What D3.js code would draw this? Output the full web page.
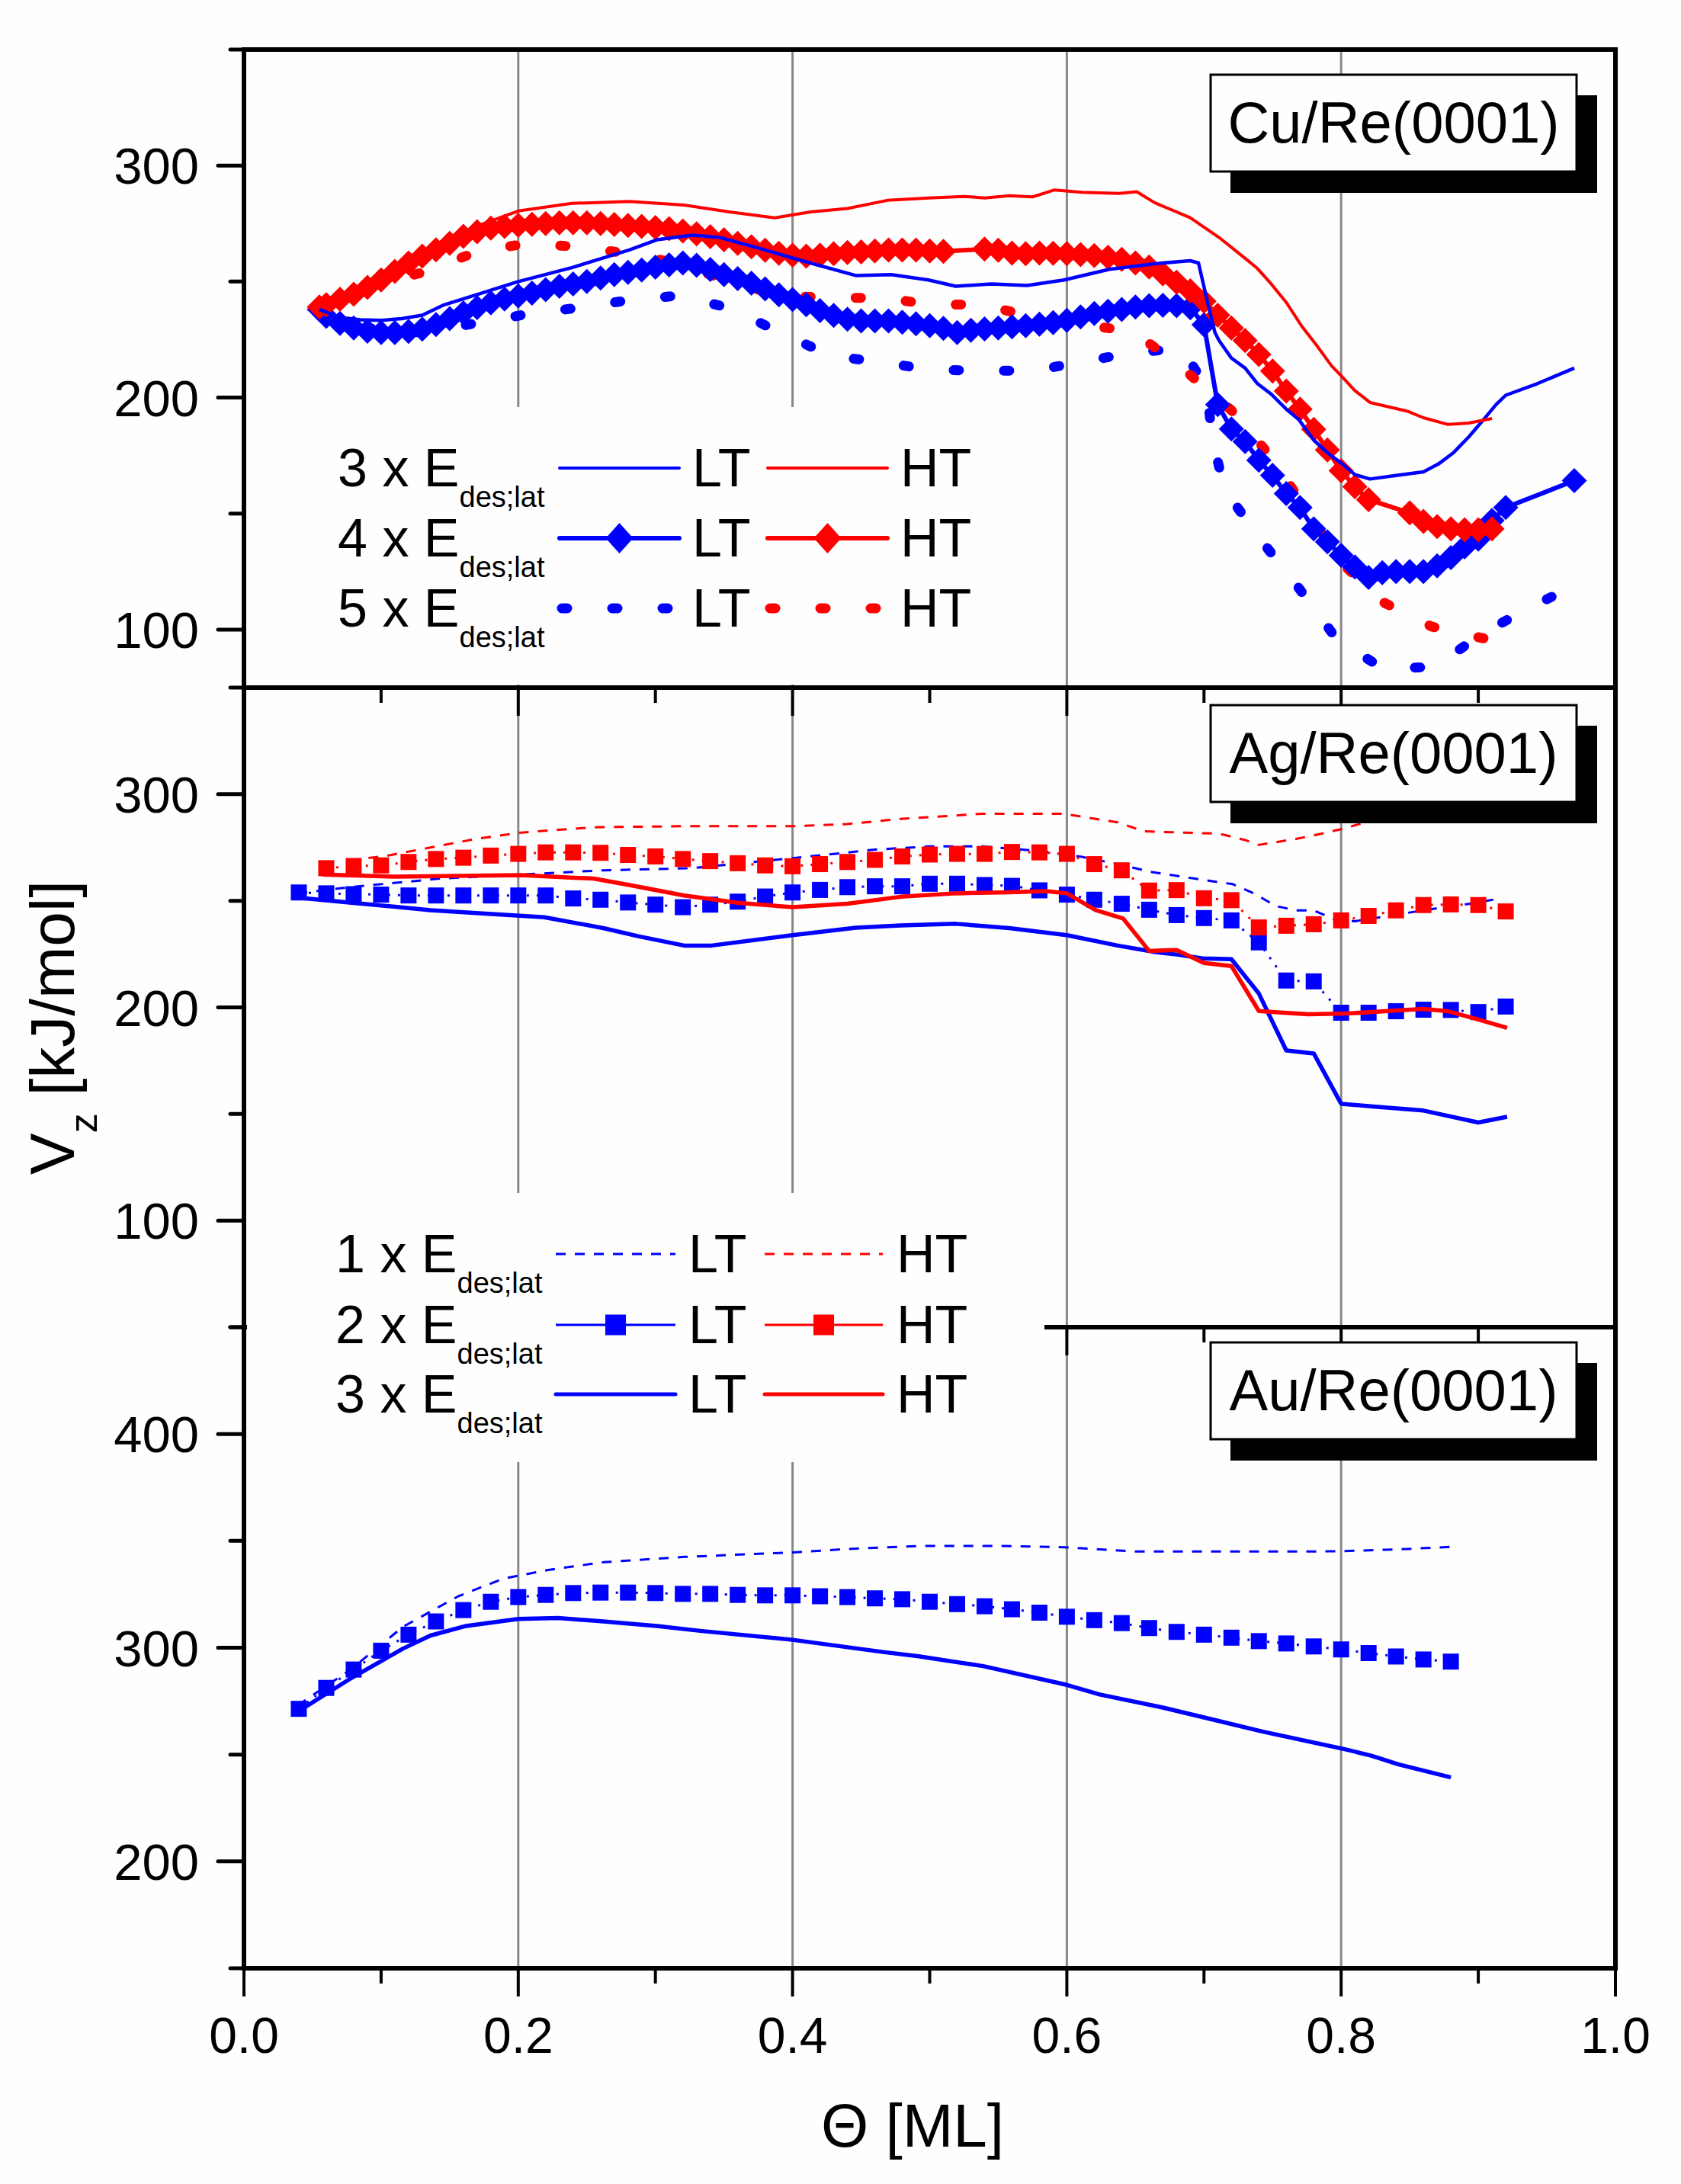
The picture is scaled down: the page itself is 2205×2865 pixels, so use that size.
<!DOCTYPE html>
<html><head><meta charset="utf-8">
<script src="https://cdn.jsdelivr.net/npm/d3@7"></script>
<style>body{margin:0;background:#fff}svg{display:block}</style>
</head><body>
<svg id="c" width="2205" height="2865"></svg>
<script>
// ---------------- DATA ----------------
const xTicksMajor = [0, 0.2, 0.4, 0.6, 0.8, 1.0];
const xTicksMinor = [0.1, 0.3, 0.5, 0.7, 0.9];
const xTickLabels = ["0.0", "0.2", "0.4", "0.6", "0.8", "1.0"];
const gridX = [0.2, 0.4, 0.6, 0.8];
const panelNames = ["Cu/Re(0001)", "Ag/Re(0001)", "Au/Re(0001)"];
const yLabelsCu = [100, 200, 300];
const yLabelsAg = [100, 200, 300];
const yLabelsAu = [200, 300, 400];
const legendCu = ["3", "4", "5"];
const legendAg = ["1", "2", "3"];

// Cu/Re(0001)
const cu3LT = [[0.055,238],[0.07,234.5],[0.085,233.5],[0.1,233.3],[0.115,234],[0.13,235.5],[0.146,240],[0.17,244.4],[0.2,250],[0.239,256],[0.281,263.6],[0.301,268],[0.327,270],[0.347,269],[0.374,264.6],[0.407,259],[0.446,252.6],[0.472,253],[0.499,250.7],[0.519,248],[0.545,249],[0.571,248.3],[0.598,250.7],[0.631,255.3],[0.664,257.7],[0.69,259],[0.696,258],[0.703,240],[0.708,228],[0.711,224.6],[0.72,217],[0.73,212.7],[0.739,206],[0.749,201.5],[0.76,195],[0.769,190.6],[0.78,181.7],[0.791,175.7],[0.8,171.8],[0.81,166.8],[0.821,164.9],[0.841,166.5],[0.86,168],[0.871,171.4],[0.882,176.3],[0.893,183],[0.904,190.6],[0.913,197],[0.92,201],[0.943,206],[0.97,212.7]];
const cu3HT = [[0.052,238.4],[0.08,246.5],[0.109,255.6],[0.146,266.5],[0.17,274],[0.2,280.4],[0.239,283.7],[0.281,284.5],[0.321,283],[0.354,280],[0.387,277.5],[0.413,280],[0.44,281.5],[0.469,285],[0.499,286],[0.525,286.7],[0.54,286],[0.558,287],[0.575,286.5],[0.591,289.5],[0.611,288.5],[0.638,288],[0.651,288.7],[0.664,284],[0.69,277.5],[0.711,269],[0.73,260],[0.739,255.6],[0.749,249],[0.76,241],[0.771,231],[0.782,222.6],[0.793,213.7],[0.8,209.4],[0.81,203],[0.821,197.9],[0.849,194],[0.86,191.3],[0.878,188.4],[0.893,189],[0.91,191]];
const cu4LT = [[0.055,238],[0.06,235],[0.07,232],[0.08,230],[0.09,228.6],[0.1,228],[0.11,228],[0.12,228.5],[0.13,229.5],[0.14,231.5],[0.15,234],[0.16,236.5],[0.17,238.8],[0.18,240.8],[0.19,242.5],[0.2,243.8],[0.21,245],[0.22,246.5],[0.23,248],[0.24,249],[0.25,250],[0.26,251.5],[0.27,253],[0.28,254],[0.29,255],[0.3,256.2],[0.31,257.2],[0.32,258],[0.33,257],[0.34,255.2],[0.35,253],[0.36,251.3],[0.37,249.3],[0.38,246.8],[0.39,244.3],[0.4,242.2],[0.41,240],[0.42,237.5],[0.43,235.4],[0.44,233.8],[0.45,233],[0.46,233],[0.47,233],[0.48,232.5],[0.49,231.8],[0.5,231],[0.51,229.8],[0.52,228],[0.53,229],[0.54,229.6],[0.55,230],[0.56,230.5],[0.57,231],[0.58,231.6],[0.59,232.3],[0.6,233.3],[0.61,234.8],[0.62,236.2],[0.63,237.2],[0.64,238],[0.65,239],[0.66,239.6],[0.67,239.8],[0.68,239.6],[0.69,238.7],[0.7,231.4],[0.71,197],[0.72,186.5],[0.73,181],[0.74,173],[0.75,166.5],[0.76,158.6],[0.77,152.6],[0.78,143.4],[0.79,137.8],[0.8,132],[0.81,127],[0.82,122.5],[0.83,124.5],[0.84,125],[0.85,125],[0.86,125],[0.87,127.5],[0.88,131],[0.89,135.6],[0.9,139],[0.91,147],[0.92,152.6],[0.97,164.2]];
const cu4HT = [[0.055,239],[0.06,240],[0.07,242.4],[0.08,244.5],[0.09,247.5],[0.1,250.7],[0.11,254.4],[0.12,258],[0.13,261],[0.14,263.7],[0.15,266.5],[0.16,269.5],[0.17,271.5],[0.18,273],[0.19,273.8],[0.2,274.3],[0.21,274.7],[0.22,275],[0.23,275.3],[0.24,275.3],[0.25,275.3],[0.26,275],[0.27,274.6],[0.28,274.2],[0.29,273.8],[0.3,273.3],[0.31,272.8],[0.32,271.8],[0.33,270.6],[0.34,269.3],[0.35,268],[0.36,266.5],[0.37,265],[0.38,263.5],[0.39,262.2],[0.4,261.4],[0.41,261],[0.42,261.4],[0.43,262],[0.44,262.5],[0.45,262.8],[0.46,263.2],[0.47,263.6],[0.48,263.6],[0.49,263.6],[0.5,263.2],[0.51,263],[0.54,264],[0.55,263.5],[0.56,262.3],[0.57,262],[0.58,262.3],[0.59,262.2],[0.6,262],[0.61,261.6],[0.62,261.2],[0.63,260.5],[0.64,259.6],[0.65,258],[0.66,256.3],[0.67,253.3],[0.68,249.7],[0.69,246],[0.7,241.5],[0.71,235.5],[0.72,230],[0.73,224.6],[0.74,218.6],[0.75,211.4],[0.76,202.8],[0.77,195],[0.78,186.3],[0.79,177.4],[0.8,168.5],[0.81,161.6],[0.82,156],[0.85,150.3],[0.86,146.6],[0.87,144.4],[0.88,143.4],[0.89,143],[0.9,143],[0.91,143.4]];
const cu5LT = [[0.055,238],[0.07,234],[0.09,230],[0.11,228.5],[0.133,228],[0.171,232.3],[0.207,236],[0.244,238.7],[0.281,242],[0.318,244],[0.355,238.4],[0.391,228],[0.428,218],[0.465,215.2],[0.501,212],[0.538,211.6],[0.575,211.6],[0.611,215.3],[0.648,219.4],[0.684,221.2],[0.702,204],[0.706,182.4],[0.715,160.3],[0.741,139],[0.769,118],[0.797,95.7],[0.831,83],[0.868,84],[0.906,99.4],[0.941,110.5],[0.96,116]];
const cu5HT = [[0.055,239],[0.075,243],[0.096,249],[0.133,254.3],[0.171,263.2],[0.207,266.4],[0.244,265],[0.281,262],[0.318,257.6],[0.355,249.8],[0.391,244],[0.428,243],[0.466,243],[0.502,240],[0.538,240.2],[0.575,234.7],[0.611,231.4],[0.648,228.6],[0.682,213.8],[0.72,194.5],[0.751,173],[0.775,151],[0.799,129.5],[0.83,112],[0.866,101.3],[0.903,96.3],[0.91,96]];

// Ag/Re(0001)
const ag1LT = [[0.039,253.5],[0.077,256.4],[0.143,260.4],[0.202,262.3],[0.262,264.3],[0.327,265.3],[0.4,270],[0.46,274],[0.499,275.5],[0.538,275.5],[0.578,273.5],[0.611,270.6],[0.637,267.2],[0.661,263.6],[0.693,260.4],[0.721,257.8],[0.737,253.3],[0.752,247.6],[0.767,245.5],[0.78,245.5],[0.797,240.8],[0.81,240.4],[0.841,243.6],[0.869,246.4],[0.897,248.9],[0.913,250.8]];
const ag1HT = [[0.077,269],[0.103,271],[0.136,275],[0.169,279],[0.202,282],[0.255,284.5],[0.321,285],[0.4,285],[0.44,286],[0.479,288.4],[0.538,290.8],[0.598,290.8],[0.637,286.8],[0.656,282.6],[0.684,282],[0.711,281.5],[0.73,278.5],[0.74,276.2],[0.767,279],[0.786,281.5],[0.8,283.6],[0.815,286.3],[0.85,293],[0.89,300],[0.92,305]];
const ag2LT = [[0.04,253.9],[0.06,253.5],[0.08,253.1],[0.1,252.9],[0.12,252.5],[0.14,252.5],[0.16,252.5],[0.18,252.5],[0.2,252.5],[0.22,252.5],[0.24,251.1],[0.26,250.5],[0.28,249.2],[0.3,248.2],[0.32,247],[0.34,248.2],[0.36,249.6],[0.38,252],[0.4,253.9],[0.42,255.1],[0.44,256.4],[0.46,256.8],[0.48,256.8],[0.5,258],[0.52,258],[0.54,257.4],[0.56,257],[0.58,254.9],[0.6,252.9],[0.62,250.5],[0.64,248.6],[0.66,245.8],[0.68,243.3],[0.7,241.9],[0.72,240.8],[0.74,230.5],[0.76,212.6],[0.78,212.2],[0.8,197.5],[0.82,197.5],[0.84,198.2],[0.86,198.9],[0.88,198.8],[0.9,197.8],[0.92,200.4]];
const ag2HT = [[0.06,265.3],[0.08,266.3],[0.1,266.6],[0.12,268.2],[0.14,269.6],[0.16,270.2],[0.18,271.2],[0.2,272],[0.22,272.7],[0.24,272.7],[0.26,272.5],[0.28,271.5],[0.3,270.8],[0.32,269.6],[0.34,268.6],[0.36,267.6],[0.38,266.6],[0.4,266.2],[0.42,267.2],[0.44,268.2],[0.46,269.2],[0.48,270.8],[0.5,271.7],[0.52,272],[0.54,272],[0.56,272.9],[0.58,272.7],[0.6,272],[0.62,267.2],[0.64,264.3],[0.66,254.8],[0.68,255],[0.7,251.2],[0.72,250.3],[0.74,237.5],[0.76,238.3],[0.78,239],[0.8,240.8],[0.82,242.9],[0.84,245.5],[0.86,248],[0.88,248.3],[0.9,248],[0.92,245]];
const ag3LT = [[0.039,251.5],[0.077,249.2],[0.136,245.6],[0.176,244],[0.219,242.3],[0.262,237.2],[0.288,233.3],[0.321,229],[0.341,229],[0.4,233.9],[0.446,237.4],[0.479,238.4],[0.519,239.2],[0.558,237.2],[0.6,233.9],[0.637,229],[0.664,226],[0.68,224.8],[0.699,223],[0.72,222.6],[0.74,206.5],[0.76,179.8],[0.78,178.4],[0.8,154.8],[0.823,153.5],[0.86,151.6],[0.9,146],[0.921,148.7]];
const ag3HT = [[0.057,262.3],[0.11,261.3],[0.202,262],[0.255,260.4],[0.281,257.4],[0.321,252.5],[0.361,249],[0.4,247],[0.44,248.6],[0.479,251.9],[0.519,253.5],[0.558,254],[0.585,254.5],[0.6,253.5],[0.621,245.6],[0.641,241.7],[0.66,226.5],[0.68,226.9],[0.7,220.8],[0.72,219.4],[0.74,198.3],[0.756,197.6],[0.776,196.8],[0.804,197.1],[0.841,198.6],[0.86,199.3],[0.878,198.2],[0.9,194.3],[0.921,190.4]];

// Au/Re(0001)
const au1LT = [[0.039,273],[0.077,289.4],[0.116,309.8],[0.156,324],[0.189,332.3],[0.222,336.4],[0.262,340],[0.321,342.5],[0.4,344.6],[0.44,346.2],[0.492,347.6],[0.552,347.6],[0.598,347],[0.651,345],[0.703,345],[0.769,345],[0.802,345.2],[0.848,346.2],[0.88,347.2]];
const au2LT = [[0.04,271.4],[0.06,281.2],[0.08,289.8],[0.1,298.6],[0.12,306.1],[0.14,312.3],[0.16,317.6],[0.18,321.5],[0.2,323.7],[0.22,324.7],[0.24,325.6],[0.26,325.8],[0.28,325.8],[0.3,325.6],[0.32,325.2],[0.34,325.2],[0.36,324.7],[0.38,324.5],[0.4,324.5],[0.42,324.1],[0.44,323.7],[0.46,323.1],[0.48,322.7],[0.5,321.5],[0.52,320.4],[0.54,319.4],[0.56,318],[0.58,316.4],[0.6,314.5],[0.62,312.9],[0.64,311.5],[0.66,309.2],[0.68,307.4],[0.7,306.1],[0.72,304.7],[0.74,303.1],[0.76,302],[0.78,300.6],[0.8,299.2],[0.82,297.5],[0.84,295.9],[0.86,294.5],[0.88,293.5]];
const au3LT = [[0.039,270],[0.077,285.3],[0.116,299.6],[0.136,305.7],[0.162,310.2],[0.2,313.5],[0.229,313.9],[0.262,312.3],[0.301,310.2],[0.334,307.8],[0.4,303.7],[0.466,298],[0.492,296],[0.539,291.4],[0.6,282.6],[0.624,278.1],[0.67,272],[0.703,266.9],[0.743,260.7],[0.802,252.6],[0.822,249.5],[0.842,245.4],[0.88,239.3]];

// ---------------- DRAWING ----------------
const BLUE = "#0000ff", RED = "#ff0000", FONT = "'Liberation Sans', Arial, Helvetica, sans-serif", BG = "#fdfefd";
const svg = d3.select("#c");
svg.append("rect").attr("width", 2205).attr("height", 2865).attr("fill", BG);

const x = d3.scaleLinear().domain([0, 1]).range([320, 2119]);
const panels = [
  { name: panelNames[0], y: d3.scaleLinear().domain([75, 350]).range([902, 65]), ticks: d3.range(100, 351, 50), labels: yLabelsCu, boxTop: 98 },
  { name: panelNames[1], y: d3.scaleLinear().domain([50, 350]).range([1741, 902]), ticks: d3.range(50, 351, 50), labels: yLabelsAg, boxTop: 925 },
  { name: panelNames[2], y: d3.scaleLinear().domain([150, 450]).range([2582, 1741]), ticks: d3.range(150, 451, 50), labels: yLabelsAu, boxTop: 1761 }
];

const gGrid = svg.append("g"), gData = svg.append("g"), gLeg1 = svg.append("g"),
      gAxes = svg.append("g"), gLeg2 = svg.append("g"), gBoxes = svg.append("g");

// grid
panels.forEach(p => {
  const [y0, y1] = p.y.range();
  gGrid.selectAll(null).data(gridX).enter().append("line")
    .attr("x1", d => x(d)).attr("x2", d => x(d)).attr("y1", y1).attr("y2", y0)
    .attr("stroke", "#888").attr("stroke-width", 3);
});

function linePath(y, data) { return d3.line().x(d => x(d[0])).y(d => y(d[1]))(data); }
function drawLine(g, y, data, color, width, dash, cap) {
  g.append("path").attr("d", linePath(y, data)).attr("fill", "none")
    .attr("stroke", color).attr("stroke-width", width)
    .attr("stroke-dasharray", dash || null)
    .attr("stroke-linecap", cap || "butt").attr("stroke-linejoin", "round");
}
function diamondPath(s) { return `M0,${-s}L${s},0L0,${s}L${-s},0Z`; }
function drawDiamonds(g, y, data, color, s) {
  g.selectAll(null).data(data).enter().append("path")
    .attr("d", diamondPath(s)).attr("transform", d => `translate(${x(d[0])},${y(d[1])})`)
    .attr("fill", color);
}
function drawSquares(g, y, data, color, s) {
  g.selectAll(null).data(data).enter().append("rect")
    .attr("x", d => x(d[0]) - s / 2).attr("y", d => y(d[1]) - s / 2)
    .attr("width", s).attr("height", s).attr("fill", color);
}

// Cu panel
{
  const y = panels[0].y;
  drawLine(gData, y, cu5LT, BLUE, 13, "7 59", "round");
  drawLine(gData, y, cu5HT, RED, 13, "7 59", "round");
  drawLine(gData, y, cu4LT, BLUE, 6);
  drawDiamonds(gData, y, cu4LT, BLUE, 16.5);
  drawLine(gData, y, cu4HT, RED, 6);
  drawDiamonds(gData, y, cu4HT, RED, 16.5);
  drawLine(gData, y, cu3LT, BLUE, 4.5);
  drawLine(gData, y, cu3HT, RED, 4);
}
// Ag panel
{
  const y = panels[1].y;
  drawLine(gData, y, ag1LT, BLUE, 3, "13 12");
  drawLine(gData, y, ag1HT, RED, 3, "13 12");
  drawLine(gData, y, ag2LT, BLUE, 3, "3 10");
  drawSquares(gData, y, ag2LT, BLUE, 21);
  drawLine(gData, y, ag2HT, RED, 3, "3 10");
  drawSquares(gData, y, ag2HT, RED, 21);
  drawLine(gData, y, ag3LT, BLUE, 5.5);
  drawLine(gData, y, ag3HT, RED, 5.5);
}
// Au panel
{
  const y = panels[2].y;
  drawLine(gData, y, au1LT, BLUE, 3, "13 12");
  drawLine(gData, y, au2LT, BLUE, 3, "3 10");
  drawSquares(gData, y, au2LT, BLUE, 21);
  drawLine(gData, y, au3LT, BLUE, 5.5);
}

// legend helpers
function legendLabel(g, num, xt, base) {
  const t = g.append("text").attr("x", xt).attr("y", base).attr("font-family", FONT).attr("font-size", 70).attr("fill", "#000");
  t.append("tspan").text(num + " x E");
  t.append("tspan").attr("font-size", 38).attr("dy", 27).text("des;lat");
}
function legendText(g, s, xt, base) {
  g.append("text").attr("x", xt).attr("y", base).attr("font-family", FONT).attr("font-size", 70).attr("fill", "#000").text(s);
}

// Top legend (Cu)
gLeg1.append("rect").attr("x", 325).attr("y", 534).attr("width", 1045).attr("height", 364).attr("fill", BG);
{
  const bases = [638, 730, 822];
  legendCu.forEach((n, i) => {
    const b = bases[i], ly = b - 24;
    legendLabel(gLeg1, n, 443, b);
    legendText(gLeg1, "LT", 908, b);
    legendText(gLeg1, "HT", 1181, b);
    [[734, 891, BLUE], [1007, 1164, RED]].forEach(([a, z, c]) => {
      if (i === 0) gLeg1.append("line").attr("x1", a).attr("x2", z).attr("y1", ly).attr("y2", ly).attr("stroke", c).attr("stroke-width", 4).attr("stroke-linecap", "round");
      if (i === 1) {
        gLeg1.append("line").attr("x1", a).attr("x2", z).attr("y1", ly).attr("y2", ly).attr("stroke", c).attr("stroke-width", 6).attr("stroke-linecap", "round");
        gLeg1.append("path").attr("d", `M0,-20L18,0L0,20L-18,0Z`).attr("transform", `translate(${(a + z) / 2},${ly})`).attr("fill", c);
      }
      if (i === 2) gLeg1.append("line").attr("x1", a + 3).attr("x2", z - 5).attr("y1", ly).attr("y2", ly).attr("stroke", c).attr("stroke-width", 13).attr("stroke-dasharray", "7 59").attr("stroke-linecap", "round");
    });
  });
}

// axes
panels.forEach((p, pi) => {
  const [yb, yt] = p.y.range();
  gAxes.append("line").attr("x1", 320).attr("x2", 320).attr("y1", yt).attr("y2", yb).attr("stroke", "#000").attr("stroke-width", 6);
  gAxes.append("line").attr("x1", 2119).attr("x2", 2119).attr("y1", yt).attr("y2", yb).attr("stroke", "#000").attr("stroke-width", 6);
  if (pi === 0) gAxes.append("line").attr("x1", 317).attr("x2", 2122).attr("y1", yt).attr("y2", yt).attr("stroke", "#000").attr("stroke-width", 6);
  gAxes.append("line").attr("x1", 317).attr("x2", 2122).attr("y1", yb).attr("y2", yb).attr("stroke", "#000").attr("stroke-width", 6);
  p.ticks.forEach(v => {
    const major = p.labels.includes(v);
    gAxes.append("line").attr("x1", 320).attr("x2", 320 - (major ? 34 : 18)).attr("y1", p.y(v)).attr("y2", p.y(v))
      .attr("stroke", "#000").attr("stroke-width", 5).attr("stroke-linecap", "round");
  });
  gAxes.selectAll(null).data(p.labels).enter().append("text")
    .attr("x", 261).attr("y", d => p.y(d) + 24).attr("text-anchor", "end")
    .attr("font-family", FONT).attr("font-size", 67).text(d => d);
  xTicksMajor.forEach(v => gAxes.append("line").attr("x1", x(v)).attr("x2", x(v)).attr("y1", yb).attr("y2", yb + 37).attr("stroke", "#000").attr("stroke-width", 4));
  xTicksMinor.forEach(v => gAxes.append("line").attr("x1", x(v)).attr("x2", x(v)).attr("y1", yb).attr("y2", yb + 20).attr("stroke", "#000").attr("stroke-width", 4));
});
gAxes.selectAll(null).data(xTicksMajor).enter().append("text")
  .attr("x", d => x(d)).attr("y", 2693).attr("text-anchor", "middle")
  .attr("font-family", FONT).attr("font-size", 66).text((d, i) => xTickLabels[i]);
gAxes.append("text").attr("x", 1197).attr("y", 2816).attr("text-anchor", "middle")
  .attr("font-family", FONT).attr("font-size", 80).text("Θ [ML]");
{
  const t = gAxes.append("text").attr("transform", "translate(97,1348) rotate(-90)").attr("text-anchor", "middle")
    .attr("font-family", FONT).attr("font-size", 82);
  t.append("tspan").text("V");
  t.append("tspan").attr("font-size", 52).attr("dy", 30).text("z");
  t.append("tspan").attr("dy", -30).text(" [kJ/mol]");
}

// Middle legend (Ag / Au)
gLeg2.append("rect").attr("x", 324).attr("y", 1565).attr("width", 1046).attr("height", 353).attr("fill", BG);
{
  const bases = [1669, 1762, 1853];
  legendAg.forEach((n, i) => {
    const b = bases[i], ly = b - 24;
    legendLabel(gLeg2, n, 440, b);
    legendText(gLeg2, "LT", 903, b);
    legendText(gLeg2, "HT", 1176, b);
    [[729, 886, BLUE], [1003, 1158, RED]].forEach(([a, z, c]) => {
      if (i === 0) gLeg2.append("line").attr("x1", a).attr("x2", z).attr("y1", ly).attr("y2", ly).attr("stroke", c).attr("stroke-width", 3).attr("stroke-dasharray", "13 12");
      if (i === 1) {
        gLeg2.append("line").attr("x1", a).attr("x2", z).attr("y1", ly).attr("y2", ly).attr("stroke", c).attr("stroke-width", 3);
        gLeg2.append("rect").attr("x", (a + z) / 2 - 13.5).attr("y", ly - 13.5).attr("width", 27).attr("height", 27).attr("fill", c);
      }
      if (i === 2) gLeg2.append("line").attr("x1", a).attr("x2", z).attr("y1", ly).attr("y2", ly).attr("stroke", c).attr("stroke-width", 5).attr("stroke-linecap", "round");
    });
  });
}

// Label boxes with shadows
panels.forEach(p => {
  const bx = 1588, bw = 480, bh = 127, by = p.boxTop;
  gBoxes.append("rect").attr("x", bx + 26).attr("y", by + 27).attr("width", bw + 1).attr("height", bh + 1).attr("fill", "#000");
  gBoxes.append("rect").attr("x", bx).attr("y", by).attr("width", bw).attr("height", bh).attr("fill", BG).attr("stroke", "#000").attr("stroke-width", 3);
  gBoxes.append("text").attr("x", bx + bw / 2).attr("y", by + 89).attr("text-anchor", "middle")
    .attr("font-family", FONT).attr("font-size", 76).text(p.name);
});
</script>
</body></html>
